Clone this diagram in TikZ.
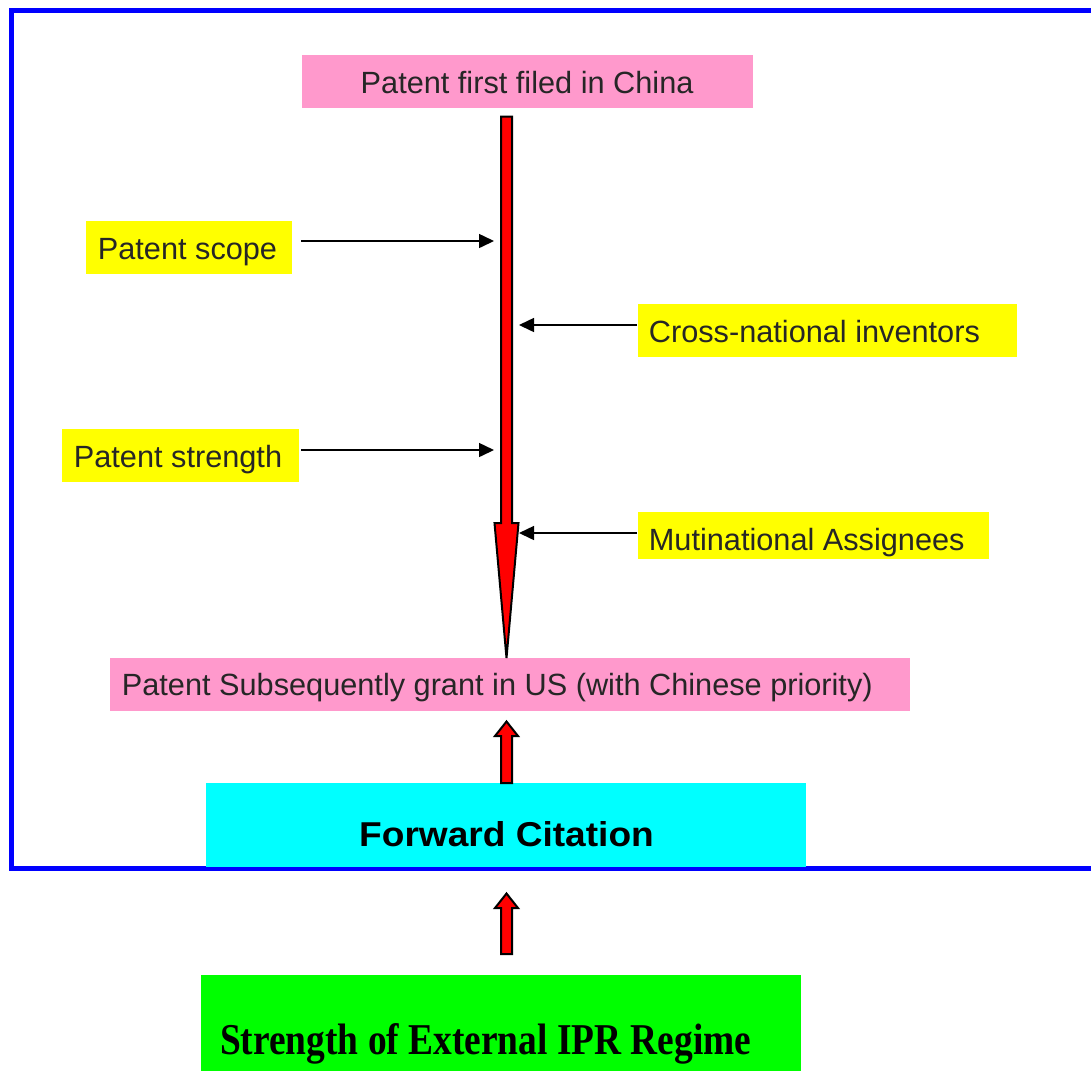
\documentclass[tikz,border=0pt]{standalone}
\usepackage{fontspec}
\setmainfont{Liberation Sans}
\newfontfamily\timesfont{Liberation Serif}
\usetikzlibrary{arrows.meta}
\definecolor{pinkbox}{HTML}{FF99CC}
\definecolor{yelbox}{HTML}{FFFF00}
\definecolor{cyanbox}{HTML}{00FFFF}
\definecolor{greenbox}{HTML}{00FF00}
\definecolor{frameblue}{HTML}{0000FF}
\definecolor{txtgray}{HTML}{262626}
\tikzset{
  boxstyle/.style={anchor=north west, inner sep=0pt, draw=none},
  txt/.style={anchor=base west, inner sep=0pt, text=txtgray, font=\fontsize{30.7}{36}\selectfont},
  conn/.style={draw=black, line width=1.5pt, -{Triangle[length=15pt,width=14pt]}},
  redarrow/.style={fill=red, draw=black, line width=2pt, line join=miter},
}
\begin{document}
\begin{tikzpicture}[x=1pt,y=-1pt]
\useasboundingbox (0,0) rectangle (1091,1072);
% frame
\draw[frameblue, line width=4.5pt] (1100,10.5) -- (11.5,10.5) -- (11.5,868.5) -- (1100,868.5);
% boxes
\node[boxstyle, fill=pinkbox, minimum width=451pt, minimum height=53pt] (first) at (302,55) {};
\node[boxstyle, fill=yelbox, minimum width=206pt, minimum height=53pt] (scope) at (86,221) {};
\node[boxstyle, fill=yelbox, minimum width=379pt, minimum height=53pt] (cross) at (638,304) {};
\node[boxstyle, fill=yelbox, minimum width=237pt, minimum height=53pt] (strength) at (62,429) {};
\node[boxstyle, fill=yelbox, minimum width=351pt, minimum height=47pt] (assign) at (638,512) {};
\node[boxstyle, fill=pinkbox, minimum width=800pt, minimum height=53pt] (grant) at (110,658) {};
\node[boxstyle, fill=cyanbox, minimum width=600pt, minimum height=83.5pt] (fwd) at (206,783) {};
\node[boxstyle, fill=greenbox, minimum width=600pt, minimum height=96pt] (ipr) at (201,975) {};
% texts
\node[txt] (firstT) at (360.5,93.3) {Patent first filed in China};
\node[txt] (scopeT) at (97.7,259.3) {Patent scope};
\node[txt] (crossT) at (648.7,342.3) {Cross-national inventors};
\node[txt] (strengthT) at (73.7,467.3) {Patent strength};
\begin{scope}
\clip (assign.north west) rectangle (assign.south east);
\node[txt] (assignT) at (648.7,550.3) {Mutinational Assignees};
\end{scope}
\node[txt] (grantT) at (121.7,695.7) {Patent Subsequently grant in US (with Chinese priority)};
\node[anchor=base west, inner sep=0pt, text=black] (fwdT) at (359,846.7) {\scalebox{1.075}[1]{\bfseries\fontsize{34.5}{40}\selectfont Forward Citation}};
\node[anchor=base west, inner sep=0pt, text=black] (iprT) at (220,1054) {\scalebox{0.85}[1]{\timesfont\bfseries\fontsize{44}{50}\selectfont Strength of External IPR Regime}};
% main red arrow from first to grant
\coordinate (mtip) at (506.5,658);
\filldraw[redarrow] (501,116.5) -- (512,116.5) -- (512,523) -- (518.5,523) -- (mtip) -- (494.5,523) -- (501,523) -- cycle;
% small red arrows
\filldraw[redarrow] (501,783) -- (501,736) -- (495,736) -- (506.5,721.5) -- (518,736) -- (512,736) -- (512,783) -- cycle;
\filldraw[redarrow] (501,954) -- (501,908) -- (495,908) -- (506.5,893.5) -- (518,908) -- (512,908) -- (512,954) -- cycle;
% black connectors
\coordinate (c1) at (494,241);
\coordinate (c2) at (519,325);
\coordinate (c3) at (494,450);
\coordinate (c4) at (519,533);
\draw[conn] ([xshift=9pt]scope.east |- c1) -- (c1);
\draw[conn] ([xshift=-1pt]cross.west |- c2) -- (c2);
\draw[conn] ([xshift=2pt]strength.east |- c3) -- (c3);
\draw[conn] ([xshift=-1pt]assign.west |- c4) -- (c4);
\end{tikzpicture}
\end{document}
